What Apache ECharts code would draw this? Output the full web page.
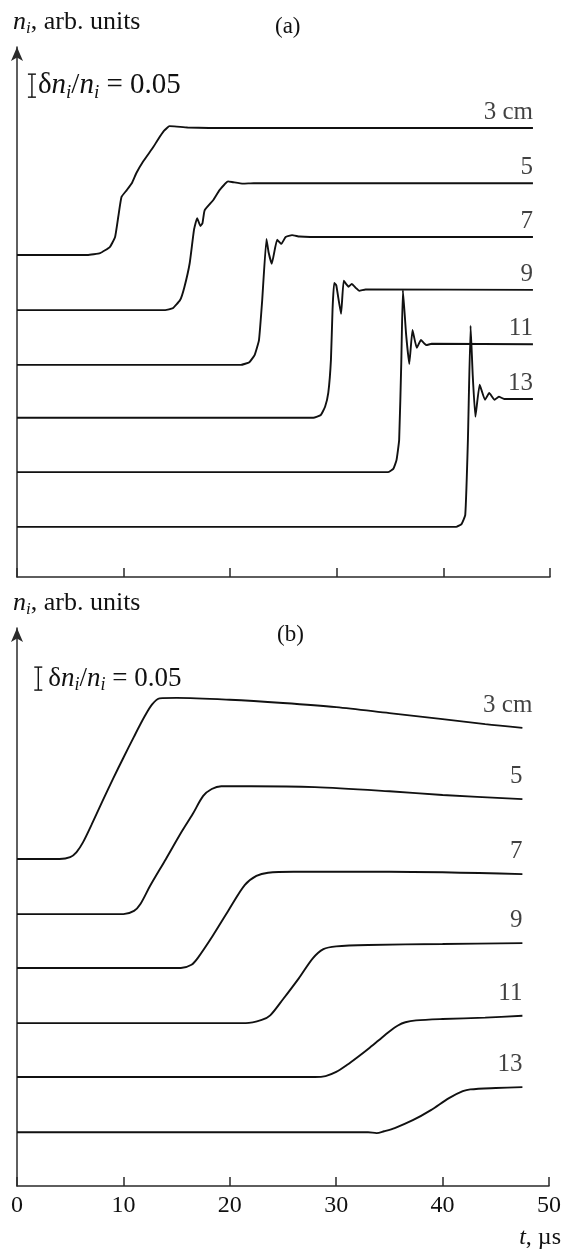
<!DOCTYPE html>
<html>
<head>
<meta charset="utf-8">
<script src="https://cdn.jsdelivr.net/npm/echarts@6/dist/echarts.min.js"></script>
<style>
  html, body { margin: 0; padding: 0; background: #fff; }
  #chart { width: 564px; height: 1251px; }
</style>
</head>
<body>
<div id="chart"></div>
<script>
// Probe distance for each trace, top to bottom
const distances = ['3 cm', '5', '7', '9', '11', '13'];
const xTickValues = [0, 10, 20, 30, 40, 50];
const scaleStep = 0.05;   // height of the δn/n reference bar

// Panel (a): [t (µs), δn/n above the trace's own baseline]
const a3 = [[0,0],[6.6,0],[7.8,0.004],[8.7,0.017],[9.2,0.039],[9.5,0.083],[9.8,0.126],[10.3,0.141],[10.8,0.157],[11.2,0.178],[11.8,0.202],[12.8,0.235],[13.2,0.250],[13.8,0.270],[14.3,0.280],[15.0,0.279],[16.0,0.277],[18.0,0.276],[48.4,0.276]];
const a5 = [[0,0],[13.9,0],[14.6,0.004],[15.3,0.022],[15.7,0.050],[16.2,0.102],[16.6,0.174],[16.9,0.200],[17.2,0.183],[17.4,0.189],[17.6,0.217],[18.4,0.239],[19.0,0.261],[19.8,0.280],[20.3,0.278],[21.2,0.275],[22.2,0.276],[48.4,0.276]];
const a7 = [[0,0],[21.0,0],[21.8,0.006],[22.3,0.022],[22.7,0.054],[23.0,0.140],[23.4,0.274],[23.6,0.245],[23.9,0.220],[24.4,0.272],[24.8,0.263],[25.2,0.278],[25.8,0.282],[26.5,0.279],[27.5,0.278],[48.4,0.278]];
const a9 = [[0,0],[27.8,0],[28.5,0.006],[28.9,0.024],[29.2,0.054],[29.45,0.126],[29.6,0.235],[29.75,0.293],[29.95,0.288],[30.4,0.226],[30.65,0.298],[31.1,0.285],[31.4,0.291],[31.8,0.282],[32.1,0.276],[32.7,0.279],[48.4,0.278]];
const a11 = [[0,0],[34.8,0],[35.3,0.007],[35.6,0.026],[35.85,0.070],[36.05,0.239],[36.2,0.396],[36.5,0.300],[36.8,0.235],[37.1,0.309],[37.5,0.270],[37.9,0.287],[38.4,0.276],[38.9,0.279],[48.4,0.278]];
const a13 = [[0,0],[41.2,0],[41.7,0.006],[42.05,0.026],[42.3,0.190],[42.55,0.437],[42.75,0.330],[43.0,0.239],[43.4,0.309],[43.9,0.276],[44.3,0.291],[44.8,0.276],[45.2,0.283],[45.7,0.278],[48.4,0.278]];
const offsetsA = [0.700, 0.580, 0.461, 0.346, 0.228, 0.109];

// Panel (b)
const b3 = [[0,0],[4.0,0],[5.0,0.004],[5.6,0.015],[6.2,0.036],[7.0,0.074],[8.0,0.124],[9.0,0.173],[10.0,0.220],[11.0,0.266],[12.0,0.310],[12.7,0.336],[13.4,0.349],[15.0,0.350],[20.0,0.346],[25.0,0.339],[30.0,0.330],[35.0,0.317],[40.0,0.304],[44.0,0.293],[47.5,0.285]];
const b5 = [[0,0],[10.0,0],[11.0,0.007],[11.6,0.022],[12.5,0.061],[14.0,0.120],[15.5,0.180],[16.5,0.217],[17.5,0.257],[18.3,0.272],[19.2,0.278],[22.0,0.278],[28.0,0.276],[35.0,0.267],[40.0,0.259],[47.5,0.250]];
const b7 = [[0,0],[15.4,0],[16.4,0.007],[17.0,0.022],[18.4,0.070],[19.9,0.126],[21.4,0.180],[22.5,0.200],[23.6,0.207],[26.0,0.209],[35.0,0.209],[47.5,0.204]];
const b9 = [[0,0],[21.5,0],[23.0,0.007],[23.8,0.017],[25.0,0.052],[26.5,0.098],[27.8,0.141],[28.8,0.161],[30.0,0.167],[33.0,0.170],[40.0,0.172],[47.5,0.174]];
const b11 = [[0,0],[28.0,0],[29.0,0.002],[30.0,0.011],[31.0,0.026],[32.0,0.043],[33.0,0.061],[34.0,0.080],[35.0,0.099],[35.8,0.112],[36.5,0.119],[37.5,0.123],[40.0,0.126],[44.0,0.129],[47.5,0.133]];
const b13 = [[0,0],[33.0,0],[33.8,-0.002],[34.5,0.002],[35.5,0.009],[37.2,0.026],[38.9,0.048],[40.6,0.074],[41.9,0.089],[42.6,0.093],[45.0,0.096],[47.5,0.098]];
const offsetsB = [0.711, 0.591, 0.474, 0.354, 0.237, 0.117];

const tracesA = [a3, a5, a7, a9, a11, a13];
const tracesB = [b3, b5, b7, b9, b11, b13];

// ---- styling ----
const FONT = '"Liberation Serif", "Times New Roman", serif';
const INK = '#111';
const AXIS = '#2a2a2a';
const nameRich = {
  it: { fontFamily: FONT, fontStyle: 'italic', fontSize: 26, color: INK },
  sub: { fontFamily: FONT, fontStyle: 'italic', fontSize: 17, color: INK, padding: [13, 0, 0, 0] }
};

const panels = [
  { traces: tracesA, offsets: offsetsA, grid: { left: 17, right: 14, top: 47, height: 530 }, yMax: 1.152,
    showLabels: false, smooth: 0.12, bar: { t: 1.4, base: 1.043, textDx: 6, size: 29 },
    labelGap: 3, labelShift: {} },
  { traces: tracesB, offsets: offsetsB, grid: { left: 17, right: 14, top: 628, height: 558 }, yMax: 1.213,
    showLabels: true, smooth: 0.3, bar: { t: 2.0, base: 1.078, textDx: 10, size: 27 },
    labelGap: 10, labelShift: { '3 cm': 10 } }
];

const grid = [], xAxis = [], yAxis = [], series = [];

panels.forEach((p, pi) => {
  grid.push(p.grid);
  xAxis.push({
    type: 'value', gridIndex: pi, min: xTickValues[0], max: xTickValues[xTickValues.length - 1], interval: 10,
    axisLine: { show: true, lineStyle: { color: AXIS, width: 1.5 } },
    axisTick: { show: true, inside: true, length: 9, lineStyle: { color: AXIS, width: 1.5 } },
    axisLabel: { show: p.showLabels, fontFamily: FONT, fontSize: 24, color: INK, margin: 8 },
    splitLine: { show: false },
    name: p.showLabels ? '{it|t}, µs' : '',
    nameLocation: 'end', nameGap: 12,
    nameTextStyle: { fontFamily: FONT, fontSize: 24, color: INK, align: 'right', verticalAlign: 'top',
      padding: [40, 0, 0, 0],
      rich: { it: { fontFamily: FONT, fontStyle: 'italic', fontSize: 24, color: INK } } }
  });
  yAxis.push({
    type: 'value', gridIndex: pi, min: 0, max: p.yMax,
    axisLine: { show: true, symbol: ['none', 'arrow'], symbolSize: [9, 14], lineStyle: { color: AXIS, width: 1.5 } },
    axisTick: { show: false }, axisLabel: { show: false }, splitLine: { show: false },
    name: '{it|n}{sub|i}, arb. units', nameLocation: 'end', nameGap: 10,
    nameTextStyle: { fontFamily: FONT, fontSize: 26, color: INK, align: 'left', padding: [0, 0, 0, -4], rich: nameRich }
  });

  // one line per probe distance, lifted by its baseline offset
  p.traces.forEach((tr, k) => {
    series.push({
      type: 'line', xAxisIndex: pi, yAxisIndex: pi, name: distances[k],
      data: tr.map(([t, v]) => [t, v + p.offsets[k]]),
      showSymbol: false, smooth: p.smooth, animation: false, silent: true,
      lineStyle: { color: INK, width: 1.9 }
    });
  });

  // distance labels at the right-hand end of each trace
  series.push({
    type: 'scatter', xAxisIndex: pi, yAxisIndex: pi, symbolSize: 0, animation: false, silent: true,
    data: p.traces.map((tr, k) => {
      const last = tr[tr.length - 1];
      return {
        name: distances[k], value: [last[0], last[1] + p.offsets[k]],
        label: { offset: [p.labelShift[distances[k]] || 0, 0] }
      };
    }),
    label: { show: true, formatter: '{b}', position: 'top', align: 'right', distance: p.labelGap,
      fontFamily: FONT, fontSize: 25, color: INK }
  });

  // δn/n reference bar with its caption
  series.push({
    type: 'custom', xAxisIndex: pi, yAxisIndex: pi, animation: false, silent: true,
    data: [[p.bar.t, p.bar.base, p.bar.base + scaleStep]],
    renderItem: (params, api) => {
      const p0 = api.coord([api.value(0), api.value(1)]);
      const p1 = api.coord([api.value(0), api.value(2)]);
      const w = 4;
      const st = { stroke: INK, lineWidth: 1.4 };
      const fs = p.bar.size;
      return {
        type: 'group',
        children: [
          { type: 'line', shape: { x1: p0[0], y1: p0[1], x2: p1[0], y2: p1[1] }, style: st },
          { type: 'line', shape: { x1: p0[0] - w, y1: p0[1], x2: p0[0] + w, y2: p0[1] }, style: st },
          { type: 'line', shape: { x1: p1[0] - w, y1: p1[1], x2: p1[0] + w, y2: p1[1] }, style: st },
          { type: 'text', x: p0[0] + p.bar.textDx, y: (p0[1] + p1[1]) / 2,
            style: { text: 'δ{it|n}{sub|i}/{it|n}{sub|i} = ' + scaleStep.toFixed(2),
              fontFamily: FONT, fontSize: fs, fill: INK, align: 'left', verticalAlign: 'middle',
              rich: {
                it: { fontFamily: FONT, fontStyle: 'italic', fontSize: fs, fill: INK },
                sub: { fontFamily: FONT, fontStyle: 'italic', fontSize: Math.round(fs * 0.65), fill: INK,
                  padding: [Math.round(fs * 0.5), 0, 0, 0] }
              } } }
        ]
      };
    }
  });
});

const chart = echarts.init(document.getElementById('chart'), null, { renderer: 'canvas' });
chart.setOption({
  backgroundColor: '#fff',
  animation: false,
  title: [
    { text: '(a)', left: 270, top: 10, textStyle: { fontFamily: FONT, fontSize: 23, fontWeight: 'normal', color: INK } },
    { text: '(b)', left: 272, top: 618, textStyle: { fontFamily: FONT, fontSize: 23, fontWeight: 'normal', color: INK } }
  ],
  grid, xAxis, yAxis, series
});
</script>
</body>
</html>
